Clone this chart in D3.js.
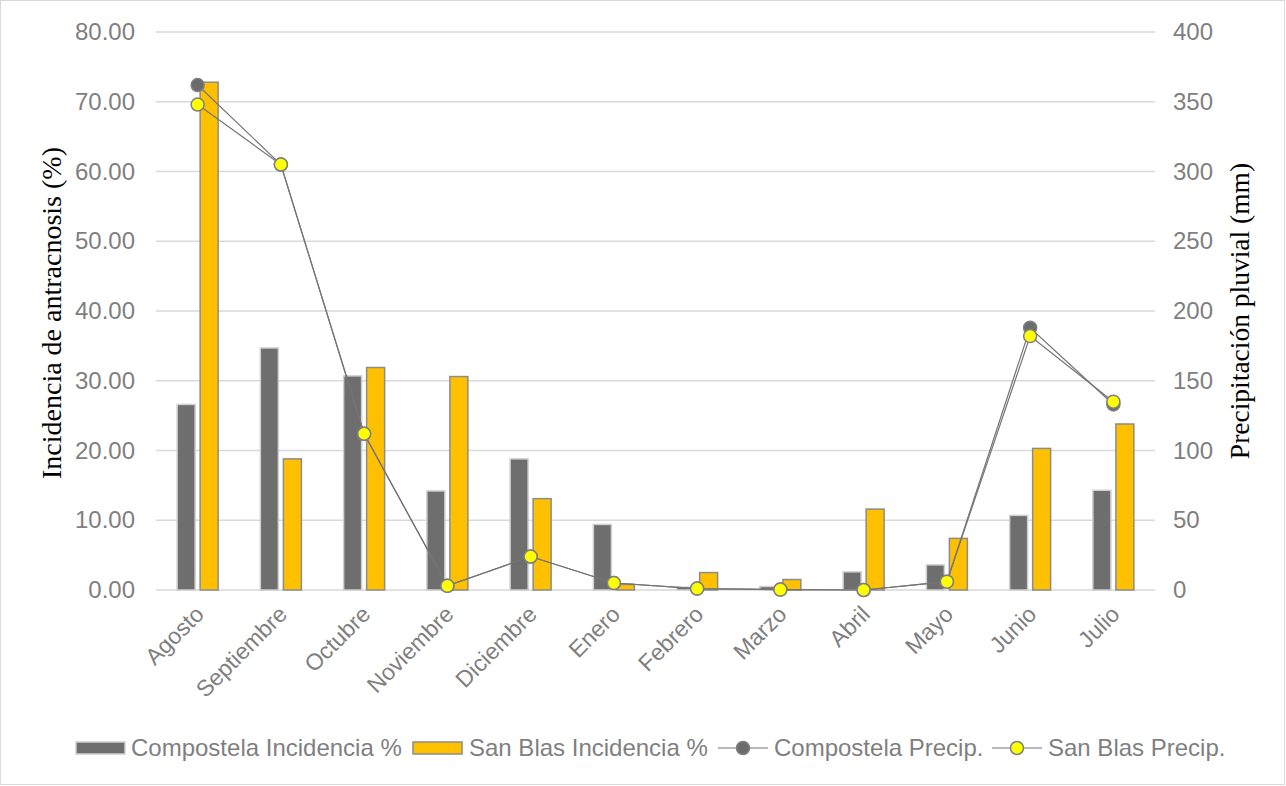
<!DOCTYPE html>
<html>
<head>
<meta charset="utf-8">
<script src="https://cdn.jsdelivr.net/npm/d3@7"></script>
<style>
  body { margin: 0; background: #fff; }
  text { font-family: "Liberation Sans", Arial, sans-serif; }
</style>
</head>
<body>
<svg id="chart" width="1286" height="786"></svg>
<script>
var months = ["Agosto", "Septiembre", "Octubre", "Noviembre", "Diciembre", "Enero", "Febrero", "Marzo", "Abril", "Mayo", "Junio", "Julio"]
var compostelaIncidence = [26.6, 34.7, 30.7, 14.2, 18.8, 9.4, 0.4, 0.5, 2.6, 3.6, 10.7, 14.3]
var sanBlasIncidence = [72.8, 18.8, 31.9, 30.6, 13.1, 0.8, 2.5, 1.5, 11.6, 7.4, 20.3, 23.8]
var compostelaPrecip = [362, 305, 112, 3, 24, 5, 1, 0.3, 0, 6, 188, 133]
var sanBlasPrecip = [348, 305, 112, 3, 24, 5, 1, 0.3, 0, 6, 182, 135]
var leftTicks = [0, 10, 20, 30, 40, 50, 60, 70, 80]
var rightTicks = [0, 50, 100, 150, 200, 250, 300, 350, 400]

var svg = d3.select("#chart")

var plot = { left: 156, right: 1155, top: 32, bottom: 590 }

svg.append("rect")
    .attr("x", 0.5).attr("y", 0.5)
    .attr("width", 1284).attr("height", 784)
    .attr("fill", "#fff")
    .attr("style", "stroke: #d9d9d9; stroke-width: 1")

var x = d3.scaleBand().domain(months).range([plot.left, plot.right])
var yLeft = d3.scaleLinear().domain([0, 80]).range([plot.bottom, plot.top])
var yRight = d3.scaleLinear().domain([0, 400]).range([plot.bottom, plot.top])

var barWidth = 18
var barGap = 5

// gridlines
svg.append("g").selectAll("line").data(leftTicks).enter().append("line")
    .attr("x1", plot.left).attr("x2", plot.right)
    .attr("y1", function (d) { return yLeft(d) })
    .attr("y2", function (d) { return yLeft(d) })
    .attr("style", "stroke: #d9d9d9; stroke-width: 1.3")

// left axis
var leftAxis = svg.append("g").attr("transform", "translate(" + plot.left + ",0)")
    .call(d3.axisLeft(yLeft).tickValues(leftTicks).tickFormat(d3.format(".2f")).tickSize(0).tickPadding(21))
leftAxis.select(".domain").remove()
leftAxis.selectAll("text").attr("fill", "#7f7f7f").attr("font-size", "24px")
    .style("font-family", "'Liberation Sans', Arial, sans-serif")

// right axis
var rightAxis = svg.append("g").attr("transform", "translate(" + plot.right + ",0)")
    .call(d3.axisRight(yRight).tickValues(rightTicks).tickSize(0).tickPadding(18))
rightAxis.select(".domain").remove()
rightAxis.selectAll("text").attr("fill", "#7f7f7f").attr("font-size", "24px")
    .style("font-family", "'Liberation Sans', Arial, sans-serif")

// x axis labels
svg.append("g").selectAll("text").data(months).enter().append("text")
    .attr("transform", function (d) {
        return "translate(" + (x(d) + x.bandwidth() / 2 + 2) + "," + (plot.bottom + 20) + ") rotate(-45)"
    })
    .attr("text-anchor", "end")
    .attr("dy", "0.35em")
    .attr("fill", "#7f7f7f")
    .attr("font-size", "23px")
    .text(function (d) { return d })

// axis titles
svg.append("text")
    .attr("transform", "translate(61," + ((plot.top + plot.bottom) / 2 + 2) + ") rotate(-90)")
    .attr("text-anchor", "middle")
    .attr("font-size", "28px")
    .style("font-family", "'Liberation Serif', 'Times New Roman', serif")
    .attr("fill", "#000")
    .text("Incidencia de antracnosis (%)")

svg.append("text")
    .attr("transform", "translate(1249," + ((plot.top + plot.bottom) / 2) + ") rotate(-90)")
    .attr("text-anchor", "middle")
    .attr("font-size", "27.5px")
    .style("font-family", "'Liberation Serif', 'Times New Roman', serif")
    .attr("fill", "#000")
    .text("Precipitación pluvial (mm)")

function center(i) {
    return x(months[i]) + x.bandwidth() / 2
}

// bars
svg.append("g").selectAll("rect").data(compostelaIncidence).enter().append("rect")
    .attr("x", function (d, i) { return center(i) - barGap / 2 - barWidth })
    .attr("y", function (d) { return yLeft(d) })
    .attr("width", barWidth)
    .attr("height", function (d) { return plot.bottom - yLeft(d) })
    .attr("fill", "#6e6e6e")
    .attr("style", "stroke: #d0d0d0; stroke-width: 1.5")

svg.append("g").selectAll("rect").data(sanBlasIncidence).enter().append("rect")
    .attr("x", function (d, i) { return center(i) + barGap / 2 })
    .attr("y", function (d) { return yLeft(d) })
    .attr("width", barWidth)
    .attr("height", function (d) { return plot.bottom - yLeft(d) })
    .attr("fill", "#ffc000")
    .attr("style", "stroke: #8c8c8c; stroke-width: 1.5")

// lines
var line = d3.line()
    .x(function (d, i) { return center(i) })
    .y(function (d) { return yRight(d) })

function drawSeries(values, fill) {
    svg.append("path").datum(values)
        .attr("d", line)
        .attr("fill", "none")
        .attr("style", "stroke: #757575; stroke-width: 1.2")
    svg.append("g").selectAll("circle").data(values).enter().append("circle")
        .attr("cx", function (d, i) { return center(i) })
        .attr("cy", function (d) { return yRight(d) })
        .attr("r", 6.5)
        .attr("fill", fill)
        .attr("style", "stroke: #7f7f7f; stroke-width: 1.5")
}

drawSeries(compostelaPrecip, "#6b6b6b")
drawSeries(sanBlasPrecip, "#ffff00")

// legend
var legendY = 748
var legend = svg.append("g")

legend.append("rect").attr("x", 76).attr("y", legendY - 6).attr("width", 49).attr("height", 12)
    .attr("fill", "#6e6e6e").attr("style", "stroke: #d0d0d0; stroke-width: 1.5")
legend.append("text").attr("x", 131).attr("y", legendY).attr("dy", "0.35em")
    .attr("font-size", "24px").attr("fill", "#7f7f7f").text("Compostela Incidencia %")

legend.append("rect").attr("x", 413).attr("y", legendY - 6).attr("width", 49).attr("height", 12)
    .attr("fill", "#ffc000").attr("style", "stroke: #8c8c8c; stroke-width: 1.5")
legend.append("text").attr("x", 469).attr("y", legendY).attr("dy", "0.35em")
    .attr("font-size", "24px").attr("fill", "#7f7f7f").text("San Blas Incidencia %")

var lineItems = [
    { x: 718, fill: "#6b6b6b", label: "Compostela Precip." },
    { x: 992, fill: "#ffff00", label: "San Blas Precip." }
]
lineItems.forEach(function (item) {
    legend.append("line").attr("x1", item.x).attr("x2", item.x + 50)
        .attr("y1", legendY).attr("y2", legendY)
        .attr("style", "stroke: #757575; stroke-width: 1.2")
    legend.append("circle").attr("cx", item.x + 25).attr("cy", legendY).attr("r", 6.5)
        .attr("fill", item.fill).attr("style", "stroke: #7f7f7f; stroke-width: 1.5")
    legend.append("text").attr("x", item.x + 56).attr("y", legendY).attr("dy", "0.35em")
        .attr("font-size", "24px").attr("fill", "#7f7f7f").text(item.label)
})
</script>
</body>
</html>
